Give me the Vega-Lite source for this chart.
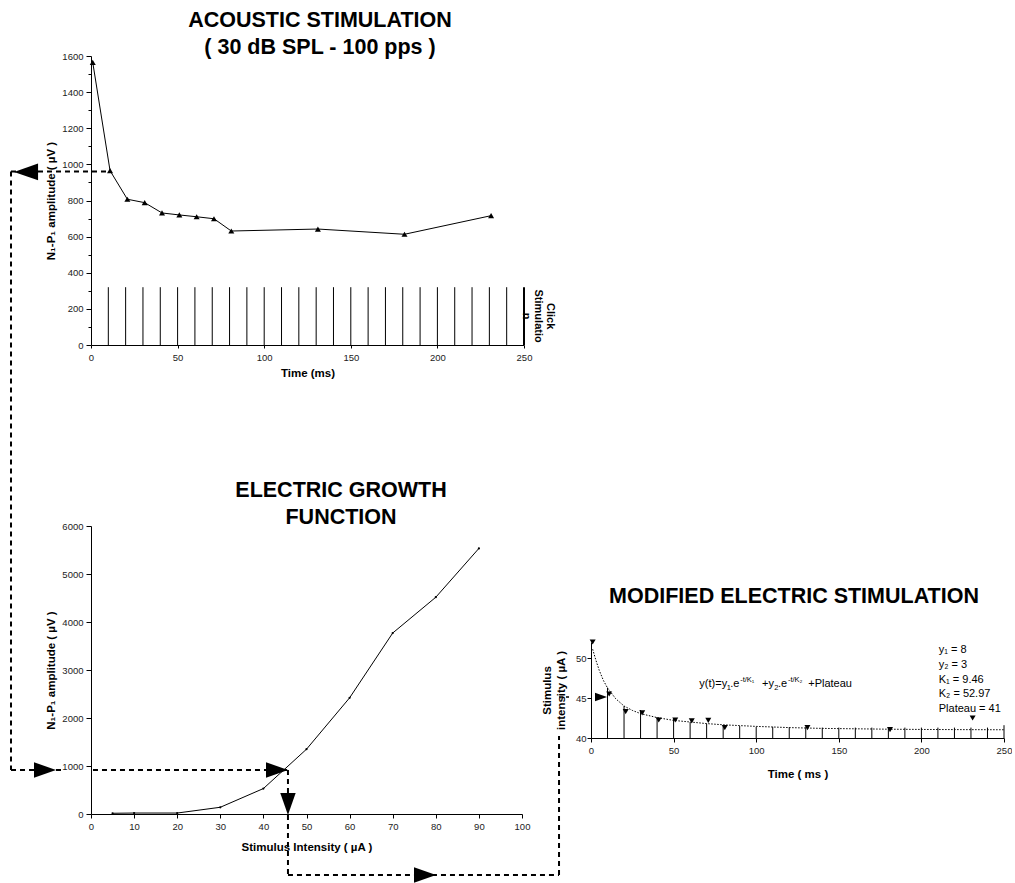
{
  "$schema": "https://vega.github.io/schema/vega-lite/v6.json",
  "background": "white",
  "padding": {"left": 9, "top": 9, "right": 0, "bottom": 0},
  "config": {
    "view": {"stroke": null},
    "font": "Liberation Sans",
    "axis": {"grid": false, "domainColor": "#000", "domainWidth": 1, "tickColor": "#000", "tickWidth": 1, "tickSize": 4, "labelColor": "#222", "labelFontSize": 9.5, "labelFont": "Liberation Sans", "titleFont": "Liberation Sans", "titleFontSize": 11.5, "titleFontWeight": "bold", "titleColor": "#000", "labelFlush": false, "labelOverlap": false, "format": "d"},
    "title": {"font": "Liberation Sans", "fontSize": 21.5, "fontWeight": "bold", "color": "#000", "anchor": "middle", "frame": "group", "lineHeight": 27}
  },
  "datasets": {
    "acoustic": [
      {"t": 1, "amp": 1565}, {"t": 11, "amp": 965}, {"t": 21, "amp": 807}, {"t": 31, "amp": 788},
      {"t": 41, "amp": 731}, {"t": 51, "amp": 720}, {"t": 61, "amp": 710}, {"t": 71, "amp": 699},
      {"t": 81, "amp": 631}, {"t": 131, "amp": 642}, {"t": 181, "amp": 613}, {"t": 231, "amp": 716}
    ],
    "clicks": [
      {"t": 10, "top": 320}, {"t": 20, "top": 320}, {"t": 30, "top": 320}, {"t": 40, "top": 320},
      {"t": 50, "top": 320}, {"t": 60, "top": 320}, {"t": 70, "top": 320}, {"t": 80, "top": 320},
      {"t": 90, "top": 320}, {"t": 100, "top": 320}, {"t": 110, "top": 320}, {"t": 120, "top": 320},
      {"t": 130, "top": 320}, {"t": 140, "top": 320}, {"t": 150, "top": 320}, {"t": 160, "top": 320},
      {"t": 170, "top": 320}, {"t": 180, "top": 320}, {"t": 190, "top": 320}, {"t": 200, "top": 320},
      {"t": 210, "top": 320}, {"t": 220, "top": 320}, {"t": 230, "top": 320}, {"t": 240, "top": 320}
    ],
    "clickEdge": [{"t": 250, "top": 320}],
    "connTop": [
      {"x1": -46.19, "x2": 11, "y1": 960, "y2": 960},
      {"x1": -46.19, "x2": -46.19, "y1": 960, "y2": -2353}
    ],
    "arrowTop": [{"x": -37.5, "y": 958, "dir": "left"}],
    "growth": [
      {"intensity": 5, "amp": 15}, {"intensity": 10, "amp": 20}, {"intensity": 20, "amp": 20},
      {"intensity": 30, "amp": 140}, {"intensity": 40, "amp": 530}, {"intensity": 50, "amp": 1350},
      {"intensity": 60, "amp": 2420}, {"intensity": 70, "amp": 3770}, {"intensity": 80, "amp": 4516},
      {"intensity": 90, "amp": 5533}
    ],
    "connBottom": [
      {"x1": -18.56, "x2": -6.96, "y1": 916.7, "y2": 916.7},
      {"x1": 0.46, "x2": 45.7, "y1": 916.7, "y2": 916.7},
      {"x1": 45.7, "x2": 45.7, "y1": 916.7, "y2": -1270.8},
      {"x1": 45.7, "x2": 108.59, "y1": -1270.8, "y2": -1270.8},
      {"x1": 108.59, "x2": 108.59, "y1": -1270.8, "y2": 1625}
    ],
    "arrowBottom": [
      {"x": -10.67, "y": 916.7, "dir": "right"},
      {"x": 43.16, "y": 916.7, "dir": "right"},
      {"x": 45.7, "y": 208, "dir": "down"},
      {"x": 77.5, "y": -1270.8, "dir": "right"}
    ],
    "modified": [
      {"t": 1, "intensity": 52.0}, {"t": 11, "intensity": 45.5}, {"t": 21, "intensity": 43.3}, {"t": 31, "intensity": 43.15},
      {"t": 41, "intensity": 42.25}, {"t": 51, "intensity": 42.25}, {"t": 61, "intensity": 42.15}, {"t": 71, "intensity": 42.2},
      {"t": 81, "intensity": 41.3}, {"t": 131, "intensity": 41.3}, {"t": 181, "intensity": 41.05}, {"t": 231, "intensity": 42.5}
    ],
    "pulses": [
      {"t": 10, "top": 46.3}, {"t": 20, "top": 44.0}, {"t": 30, "top": 43.5}, {"t": 40, "top": 42.6},
      {"t": 50, "top": 42.4}, {"t": 60, "top": 42.0}, {"t": 70, "top": 41.8}, {"t": 80, "top": 41.6},
      {"t": 90, "top": 41.5}, {"t": 100, "top": 41.4}, {"t": 110, "top": 41.4}, {"t": 120, "top": 41.35},
      {"t": 130, "top": 41.35}, {"t": 140, "top": 41.3}, {"t": 150, "top": 41.3}, {"t": 160, "top": 41.3},
      {"t": 170, "top": 41.3}, {"t": 180, "top": 41.3}, {"t": 190, "top": 41.3}, {"t": 200, "top": 41.3},
      {"t": 210, "top": 41.3}, {"t": 220, "top": 41.3}, {"t": 230, "top": 41.3}, {"t": 240, "top": 41.3},
      {"t": 250, "top": 41.6}
    ],
    "fit": [
      {"t": 1, "v": 51.1}, {"t": 3, "v": 49.7}, {"t": 5, "v": 48.45}, {"t": 7.5, "v": 47.2},
      {"t": 10, "v": 46.25}, {"t": 15, "v": 44.9}, {"t": 20, "v": 44.0}, {"t": 25, "v": 43.45},
      {"t": 30, "v": 43.05}, {"t": 40, "v": 42.55}, {"t": 50, "v": 42.2}, {"t": 60, "v": 42.0},
      {"t": 70, "v": 41.8}, {"t": 80, "v": 41.65}, {"t": 90, "v": 41.55}, {"t": 100, "v": 41.45},
      {"t": 120, "v": 41.3}, {"t": 140, "v": 41.2}, {"t": 160, "v": 41.15}, {"t": 180, "v": 41.1},
      {"t": 200, "v": 41.07}, {"t": 220, "v": 41.05}, {"t": 250, "v": 41.03}
    ],
    "connRight": [{"x1": -19.4, "x2": -13.3, "y1": 45.125, "y2": 45.125}],
    "arrowRight": [{"x": 6.05, "y": 45.125, "dir": "right"}],
    "gap": [{"g": 0}]
  },
  "spacing": 181,
  "bounds": "flush",
  "vconcat": [
    {
      "width": 433,
      "height": 289,
      "title": {"text": ["ACOUSTIC STIMULATION", "( 30 dB SPL - 100 pps )"], "offset": -7, "dx": 12.5},
      "resolve": {"axis": {"x": "independent", "y": "independent"}},
      "layer": [
        {
          "data": {"name": "acoustic"},
          "mark": {"type": "line", "color": "#000", "strokeWidth": 1},
          "encoding": {
            "x": {"field": "t", "type": "quantitative", "scale": {"domain": [0, 250], "nice": false, "zero": false}, "axis": {"orient": "bottom", "title": "Time (ms)", "values": [0, 50, 100, 150, 200, 250], "tickSize": 3, "labelPadding": 4, "titlePadding": 6}},
            "y": {"field": "amp", "type": "quantitative", "scale": {"domain": [0, 1600], "nice": false}, "axis": {"orient": "left", "title": "N₁-P₁ amplitude ( µV )", "values": [0, 200, 400, 600, 800, 1000, 1200, 1400, 1600], "tickSize": 5, "labelPadding": 3, "titlePadding": 5}}
          }
        },
        {
          "data": {"name": "acoustic"},
          "mark": {"type": "point", "shape": "triangle-up", "filled": true, "color": "#000", "size": 36, "opacity": 1},
          "encoding": {
            "x": {"field": "t", "type": "quantitative", "axis": null},
            "y": {"field": "amp", "type": "quantitative", "axis": {"orient": "left", "title": null, "values": [100, 300, 500, 700, 900, 1100, 1300, 1500], "labels": false, "domain": false, "tickSize": 3}}
          }
        },
        {
          "data": {"name": "clicks"},
          "mark": {"type": "rule", "color": "#000", "strokeWidth": 1},
          "encoding": {
            "x": {"field": "t", "type": "quantitative", "axis": null},
            "y": {"field": "top", "type": "quantitative", "axis": null},
            "y2": {"datum": 0}
          }
        },
        {
          "data": {"name": "clickEdge"},
          "mark": {"type": "rule", "color": "#000", "strokeWidth": 2},
          "encoding": {
            "x": {"field": "t", "type": "quantitative", "axis": null},
            "y": {"field": "top", "type": "quantitative", "axis": null},
            "y2": {"datum": 0}
          }
        },
        {
          "data": {"name": "connTop"},
          "mark": {"type": "rule", "color": "#000", "strokeWidth": 2, "strokeDash": [5, 4]},
          "encoding": {
            "x": {"field": "x1", "type": "quantitative", "axis": null},
            "x2": {"field": "x2"},
            "y": {"field": "y1", "type": "quantitative", "axis": null},
            "y2": {"field": "y2"}
          }
        },
        {
          "data": {"name": "arrowTop"},
          "mark": {"type": "point", "filled": true, "color": "#000", "opacity": 1, "size": 576, "shape": "M1,-0.7L-1,0L1,0.7Z"},
          "encoding": {
            "x": {"field": "x", "type": "quantitative", "axis": null},
            "y": {"field": "y", "type": "quantitative", "axis": null}
          }
        },
        {
          "data": {"values": [{"label": "Click\nStimulatio\nn"}]},
          "mark": {"type": "text", "angle": 90, "align": "center", "baseline": "middle", "fontSize": 11, "fontWeight": "bold", "lineHeight": 12, "lineBreak": "\n", "color": "#000"},
          "encoding": {
            "x": {"datum": 265.0, "type": "quantitative", "axis": null},
            "y": {"datum": 160, "type": "quantitative", "axis": null},
            "text": {"field": "label", "type": "nominal"}
          }
        }
      ]
    },
    {
      "spacing": 69,
      "bounds": "flush",
      "hconcat": [
        {
          "width": 431,
          "height": 288,
          "title": {"text": ["ELECTRIC GROWTH", "FUNCTION"], "offset": -7, "dx": 34.5},
          "resolve": {"axis": {"x": "independent", "y": "independent"}},
          "layer": [
            {
              "data": {"name": "growth"},
              "mark": {"type": "line", "color": "#000", "strokeWidth": 1},
              "encoding": {
                "x": {"field": "intensity", "type": "quantitative", "scale": {"domain": [0, 100], "nice": false, "zero": false}, "axis": {"orient": "bottom", "title": "Stimulus Intensity ( µA )", "values": [0, 10, 20, 30, 40, 50, 60, 70, 80, 90, 100], "tickSize": 4, "labelPadding": 3, "titlePadding": 11}},
                "y": {"field": "amp", "type": "quantitative", "scale": {"domain": [0, 6000], "nice": false}, "axis": {"orient": "left", "title": "N₁-P₁ amplitude ( µV )", "values": [0, 1000, 2000, 3000, 4000, 5000, 6000], "tickSize": 5, "labelPadding": 3, "titlePadding": 5}}
              }
            },
            {
              "data": {"name": "growth"},
              "mark": {"type": "point", "filled": true, "color": "#000", "opacity": 1, "size": 5},
              "encoding": {
                "x": {"field": "intensity", "type": "quantitative", "axis": null},
                "y": {"field": "amp", "type": "quantitative", "axis": null}
              }
            },
            {
              "data": {"name": "connBottom"},
              "mark": {"type": "rule", "color": "#000", "strokeWidth": 2, "strokeDash": [5, 4]},
              "encoding": {
                "x": {"field": "x1", "type": "quantitative", "axis": null},
                "x2": {"field": "x2"},
                "y": {"field": "y1", "type": "quantitative", "axis": null},
                "y2": {"field": "y2"}
              }
            },
            {
              "data": {"name": "arrowBottom"},
              "mark": {"type": "point", "filled": true, "color": "#000", "opacity": 1, "size": 484},
              "encoding": {
                "x": {"field": "x", "type": "quantitative", "axis": null},
                "y": {"field": "y", "type": "quantitative", "axis": null},
                "shape": {"field": "dir", "type": "nominal", "legend": null, "scale": {"domain": ["left", "right", "down"], "range": ["M1,-0.7L-1,0L1,0.7Z", "M-1,-0.7L1,0L-1,0.7Z", "M-0.7,-1L0.7,-1L0,1Z"]}}
              }
            }
          ]
        },
        {
          "spacing": 0,
          "bounds": "flush",
          "vconcat": [
            {
              "width": 413,
              "height": 116,
              "data": {"name": "gap"},
              "mark": {"type": "point", "opacity": 0},
              "encoding": {
                "x": {"field": "g", "type": "quantitative", "axis": null},
                "y": {"field": "g", "type": "quantitative", "axis": null}
              }
            },
            {
              "width": 413,
              "height": 96,
              "title": {"text": "MODIFIED ELECTRIC STIMULATION", "offset": 32, "dx": -3.5},
              "resolve": {"axis": {"x": "independent", "y": "independent"}},
              "layer": [
                {
                  "data": {"name": "modified"},
                  "mark": {"type": "point", "shape": "triangle-down", "filled": true, "color": "#000", "opacity": 1, "size": 36},
                  "encoding": {
                    "x": {"field": "t", "type": "quantitative", "scale": {"domain": [0, 250], "nice": false, "zero": false}, "axis": {"orient": "bottom", "title": "Time ( ms )", "values": [0, 50, 100, 150, 200, 250], "tickSize": 4, "labelPadding": 3, "titlePadding": 14}},
                    "y": {"field": "intensity", "type": "quantitative", "scale": {"domain": [40, 52], "nice": false, "zero": false}, "axis": {"orient": "left", "title": ["Stimulus", "intensity ( µA )"], "titleLineHeight": 14, "values": [40, 45, 50], "tickSize": 4, "labelPadding": 1, "titlePadding": 9}}
                  }
                },
                {
                  "data": {"name": "pulses"},
                  "mark": {"type": "rule", "color": "#000", "strokeWidth": 1},
                  "encoding": {
                    "x": {"field": "t", "type": "quantitative", "axis": null},
                    "y": {"field": "top", "type": "quantitative", "axis": null},
                    "y2": {"datum": 40}
                  }
                },
                {
                  "data": {"name": "fit"},
                  "mark": {"type": "line", "color": "#000", "strokeWidth": 1, "strokeDash": [1.5, 1.5]},
                  "encoding": {
                    "x": {"field": "t", "type": "quantitative", "axis": null},
                    "y": {"field": "v", "type": "quantitative", "axis": null}
                  }
                },
                {
                  "data": {"name": "connRight"},
                  "mark": {"type": "rule", "color": "#000", "strokeWidth": 1.5, "strokeDash": [4, 3]},
                  "encoding": {
                    "x": {"field": "x1", "type": "quantitative", "axis": null},
                    "x2": {"field": "x2"},
                    "y": {"field": "y1", "type": "quantitative", "axis": null},
                    "y2": {"field": "y2"}
                  }
                },
                {
                  "data": {"name": "arrowRight"},
                  "mark": {"type": "point", "filled": true, "color": "#000", "opacity": 1, "size": 144, "shape": "M-1,-0.7L1,0L-1,0.7Z"},
                  "encoding": {
                    "x": {"field": "x", "type": "quantitative", "axis": null},
                    "y": {"field": "y", "type": "quantitative", "axis": null}
                  }
                },
                {
                  "data": {"values": [{"label": "y(t)=y"}]},
                  "mark": {"type": "text", "align": "left", "baseline": "alphabetic", "fontSize": 11, "color": "#000"},
                  "encoding": {"x": {"datum": 65.6, "type": "quantitative", "axis": null}, "y": {"datum": 46.4, "type": "quantitative", "axis": null}, "text": {"field": "label", "type": "nominal"}}
                },
                {
                  "data": {"values": [{"label": "1"}]},
                  "mark": {"type": "text", "align": "left", "baseline": "alphabetic", "fontSize": 7.5, "color": "#000"},
                  "encoding": {"x": {"datum": 82.1, "type": "quantitative", "axis": null}, "y": {"datum": 46.03, "type": "quantitative", "axis": null}, "text": {"field": "label", "type": "nominal"}}
                },
                {
                  "data": {"values": [{"label": ".e"}]},
                  "mark": {"type": "text", "align": "left", "baseline": "alphabetic", "fontSize": 11, "color": "#000"},
                  "encoding": {"x": {"datum": 84.3, "type": "quantitative", "axis": null}, "y": {"datum": 46.4, "type": "quantitative", "axis": null}, "text": {"field": "label", "type": "nominal"}}
                },
                {
                  "data": {"values": [{"label": "-t/K₁"}]},
                  "mark": {"type": "text", "align": "left", "baseline": "alphabetic", "fontSize": 7.5, "color": "#000"},
                  "encoding": {"x": {"datum": 90.3, "type": "quantitative", "axis": null}, "y": {"datum": 47.06, "type": "quantitative", "axis": null}, "text": {"field": "label", "type": "nominal"}}
                },
                {
                  "data": {"values": [{"label": "+y"}]},
                  "mark": {"type": "text", "align": "left", "baseline": "alphabetic", "fontSize": 11, "color": "#000"},
                  "encoding": {"x": {"datum": 103.5, "type": "quantitative", "axis": null}, "y": {"datum": 46.4, "type": "quantitative", "axis": null}, "text": {"field": "label", "type": "nominal"}}
                },
                {
                  "data": {"values": [{"label": "2"}]},
                  "mark": {"type": "text", "align": "left", "baseline": "alphabetic", "fontSize": 7.5, "color": "#000"},
                  "encoding": {"x": {"datum": 111.0, "type": "quantitative", "axis": null}, "y": {"datum": 46.03, "type": "quantitative", "axis": null}, "text": {"field": "label", "type": "nominal"}}
                },
                {
                  "data": {"values": [{"label": ".e"}]},
                  "mark": {"type": "text", "align": "left", "baseline": "alphabetic", "fontSize": 11, "color": "#000"},
                  "encoding": {"x": {"datum": 113.2, "type": "quantitative", "axis": null}, "y": {"datum": 46.4, "type": "quantitative", "axis": null}, "text": {"field": "label", "type": "nominal"}}
                },
                {
                  "data": {"values": [{"label": "-t/K₂"}]},
                  "mark": {"type": "text", "align": "left", "baseline": "alphabetic", "fontSize": 7.5, "color": "#000"},
                  "encoding": {"x": {"datum": 119.2, "type": "quantitative", "axis": null}, "y": {"datum": 47.06, "type": "quantitative", "axis": null}, "text": {"field": "label", "type": "nominal"}}
                },
                {
                  "data": {"values": [{"label": "+Plateau"}]},
                  "mark": {"type": "text", "align": "left", "baseline": "alphabetic", "fontSize": 11, "color": "#000"},
                  "encoding": {"x": {"datum": 131.5, "type": "quantitative", "axis": null}, "y": {"datum": 46.4, "type": "quantitative", "axis": null}, "text": {"field": "label", "type": "nominal"}}
                },
                {
                  "data": {"values": [{"label": "y₁ = 8\ny₂ = 3\nK₁ = 9.46\nK₂ = 52.97\nPlateau = 41"}]},
                  "mark": {"type": "text", "align": "left", "baseline": "middle", "fontSize": 11, "lineHeight": 14.8, "lineBreak": "\n", "color": "#000"},
                  "encoding": {"x": {"datum": 210.5, "type": "quantitative", "axis": null}, "y": {"datum": 51.0, "type": "quantitative", "axis": null}, "text": {"field": "label", "type": "nominal"}}
                }
              ]
            }
          ]
        }
      ]
    }
  ]
}
